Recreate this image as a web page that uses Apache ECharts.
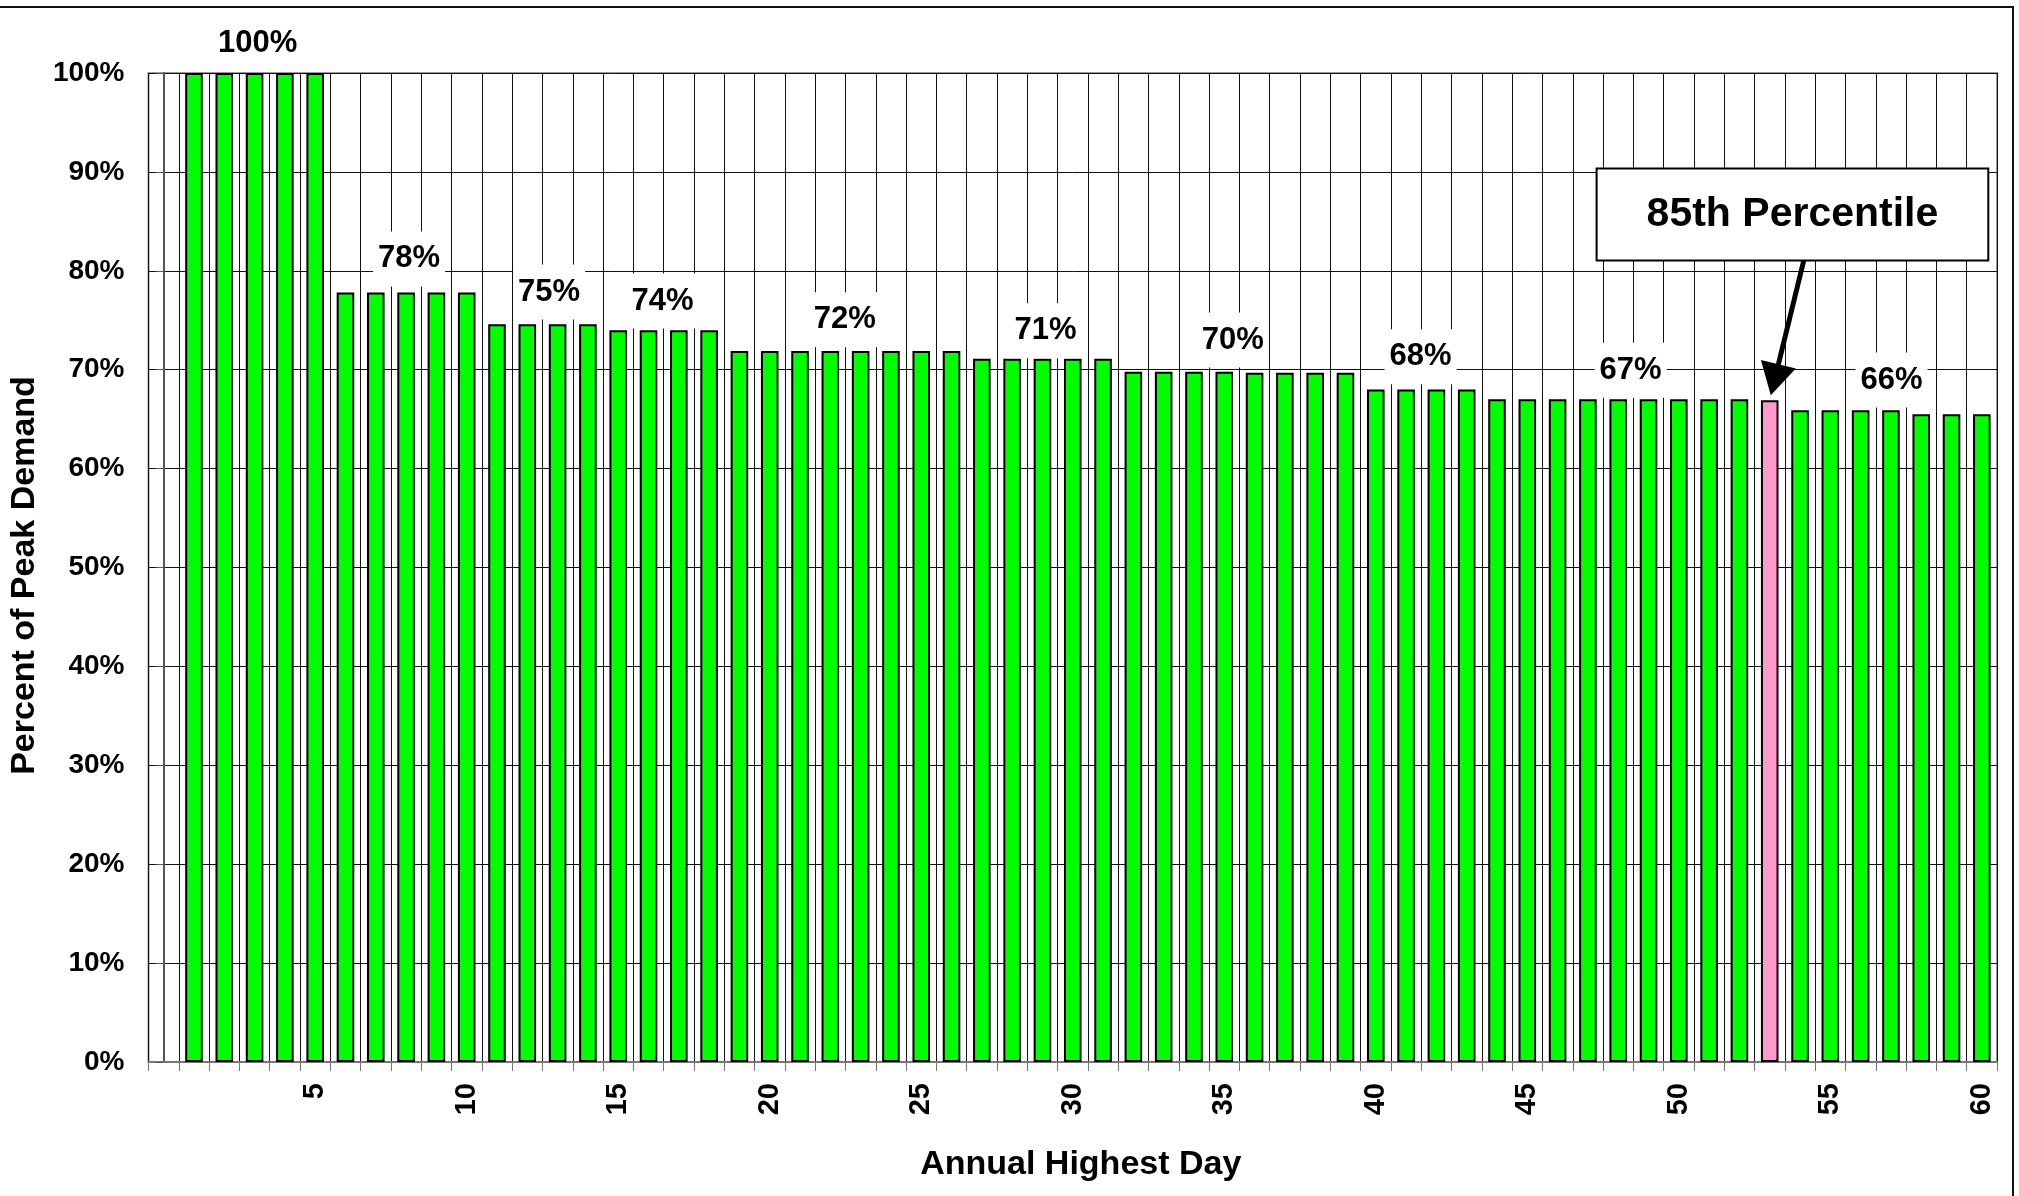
<!DOCTYPE html>
<html>
<head>
<meta charset="utf-8">
<script src="https://cdn.jsdelivr.net/npm/echarts@6/dist/echarts.min.js"></script>
<style>
  html, body { margin: 0; padding: 0; background: #fff; }
  #chart { width: 2019px; height: 1196px; }
</style>
</head>
<body>
<div id="chart"></div>
<script>
// ---- Data ----
const days = ['0','1','2','3','4','5','6','7','8','9','10','11','12','13','14','15','16','17','18','19','20',
  '21','22','23','24','25','26','27','28','29','30','31','32','33','34','35','36','37','38','39','40',
  '41','42','43','44','45','46','47','48','49','50','51','52','53','54','55','56','57','58','59','60'];

const percentOfPeak = [null,
  100, 100, 100, 100, 100,
  77.8, 77.8, 77.8, 77.8, 77.8,
  74.6, 74.6, 74.6, 74.6,
  74.0, 74.0, 74.0, 74.0,
  71.9, 71.9, 71.9, 71.9, 71.9, 71.9, 71.9, 71.9,
  71.1, 71.1, 71.1, 71.1, 71.1,
  69.8, 69.8, 69.8, 69.8,
  69.7, 69.7, 69.7, 69.7,
  68.0, 68.0, 68.0, 68.0,
  67.0, 67.0, 67.0, 67.0, 67.0, 67.0, 67.0, 67.0, 67.0,
  66.9,
  65.9, 65.9, 65.9, 65.9,
  65.5, 65.5, 65.5];

const highlightDay = 53; // 85th percentile day

const yTicks = [0, 10, 20, 30, 40, 50, 60, 70, 80, 90, 100];

// group annotations (position in day units, value in %)
const groupLabelText = ['100%', '78%', '75%', '74%', '72%', '71%', '70%', '68%', '67%', '66%'];
const groupLabelDay  = [3.10, 8.10, 12.72, 16.46, 22.48, 29.10, 35.28, 41.48, 48.41, 57.02];
const groupLabelPct  = [103.0, 81.2, 77.85, 76.95, 75.05, 73.95, 73.0, 71.3, 69.94, 68.96];

const calloutText = '85th Percentile';
const calloutDay = 53.75, calloutPct = 85.7;
const arrowFrom = [54.2, 82.0];
const arrowTo = [53.16, 68.98];

// ---- Chart ----
const FONT = '"Liberation Sans", Arial, Helvetica, sans-serif';
const chart = echarts.init(document.getElementById('chart'), null, { renderer: 'canvas' });

const barData = percentOfPeak.map((v, i) => {
  if (v === null) return '-';
  if (i === highlightDay) return { value: v, itemStyle: { color: '#FF99CC' } };
  return v;
});

const labelData = groupLabelText.map((t, i) => [groupLabelDay[i], groupLabelPct[i], t]);

const option = {
  animation: false,
  backgroundColor: '#ffffff',
  textStyle: { fontFamily: FONT },
  grid: {
    left: 147, right: 22, top: 73, bottom: 134,
    show: true, borderColor: '#9a9a9a', borderWidth: 2, backgroundColor: 'transparent'
  },
  xAxis: [{
    type: 'category',
    data: days,
    boundaryGap: true,
    name: 'Annual Highest Day',
    nameLocation: 'middle',
    nameGap: 86,
    nameTextStyle: { fontFamily: FONT, fontSize: 34, fontWeight: 'bold', color: '#000', padding: [0, 0, 0, 16] },
    axisLine: { show: true, lineStyle: { color: '#777', width: 2 } },
    axisTick: { show: true, interval: 0, length: 9, lineStyle: { color: '#777', width: 1 } },
    axisLabel: {
      show: true, interval: 4, rotate: 90, margin: 21,
      fontFamily: FONT, fontSize: 29, fontWeight: 'bold', color: '#000',
      formatter: v => (v === '0' ? '' : v)
    },
    splitLine: { show: true, interval: 0, lineStyle: { color: '#111', width: 1 } }
  }, {
    type: 'value',
    min: -0.5, max: 60.5,
    show: false
  }],
  yAxis: {
    type: 'value',
    min: yTicks[0], max: yTicks[yTicks.length - 1], interval: 10,
    name: 'Percent of Peak Demand',
    nameLocation: 'middle',
    nameGap: 98,
    nameTextStyle: { fontFamily: FONT, fontSize: 34, fontWeight: 'bold', color: '#000', padding: [0, 16, 0, 0] },
    axisLine: { show: true, lineStyle: { color: '#555', width: 2 } },
    axisTick: { show: true, length: 8, lineStyle: { color: '#555', width: 1 } },
    axisLabel: {
      margin: 24, fontFamily: FONT, fontSize: 28, fontWeight: 'bold', color: '#000',
      formatter: '{value}%'
    },
    splitLine: { show: true, lineStyle: { color: '#111', width: 1 } }
  },
  series: [{
    name: 'Percent of Peak Demand',
    type: 'bar',
    data: barData,
    barWidth: '58%',
    itemStyle: { color: '#00FF00', borderColor: '#000', borderWidth: 2 },
    z: 2
  }, {
    name: 'Group labels',
    type: 'scatter',
    xAxisIndex: 1,
    clip: false,
    data: labelData,
    symbol: 'circle',
    symbolSize: 1,
    itemStyle: { color: 'rgba(0,0,0,0)', opacity: 1 },
    silent: true,
    z: 5,
    label: {
      show: true,
      position: 'inside',
      formatter: p => p.data[2],
      fontFamily: FONT, fontSize: 31, fontWeight: 'bold', color: '#000',
      backgroundColor: '#fff',
      padding: [12, 5]
    }
  }, {
    name: 'Callout',
    type: 'scatter',
    xAxisIndex: 1,
    clip: false,
    data: [[calloutDay, calloutPct, calloutText]],
    symbol: 'circle',
    symbolSize: 1,
    itemStyle: { color: 'rgba(0,0,0,0)', opacity: 1 },
    silent: true,
    z: 6,
    label: {
      show: true,
      position: 'inside',
      formatter: p => p.data[2],
      fontFamily: FONT, fontSize: 41, fontWeight: 'bold', color: '#000',
      lineHeight: 40,
      backgroundColor: '#fff',
      borderColor: '#000', borderWidth: 2,
      padding: [25, 49]
    },
    markLine: {
      silent: true,
      animation: false,
      label: { show: false },
      lineStyle: { color: '#000', width: 5, type: 'solid', opacity: 1 },
      data: [[
        { coord: arrowFrom, symbol: 'none' },
        { coord: arrowTo, symbol: 'triangle', symbolSize: [36, 32] }
      ]]
    }
  }],
  graphic: [{
    type: 'polyline',
    silent: true,
    shape: { points: [[0, 7], [2013, 7], [2013, 1196]] },
    style: { stroke: '#111', lineWidth: 2, fill: null }
  }]
};

chart.setOption(option);
</script>
</body>
</html>
